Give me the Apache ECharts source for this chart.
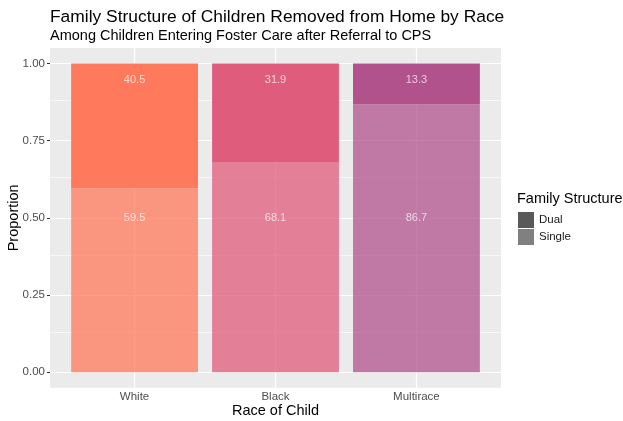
<!DOCTYPE html>
<html>
<head>
<meta charset="utf-8">
<script src="https://cdn.jsdelivr.net/npm/echarts@6/dist/echarts.min.js"></script>
<style>
html,body{margin:0;padding:0;background:#fff;}
#chart{width:623px;height:421px;}
</style>
</head>
<body>
<div id="chart"></div>
<script>
// ---- data ----
var races = ['White', 'Black', 'Multirace'];
var singlePct = [59.5, 68.1, 86.7];
var dualPct = [40.5, 31.9, 13.3];
var yTicks = [0, 0.25, 0.5, 0.75, 1];
var yMinor = [0.125, 0.375, 0.625, 0.875];
var structures = ['Dual', 'Single'];

// ---- styles ----
var dualColors = ['#FF7A5C', '#E05C7C', '#B2528D'];
var singleAlpha = 0.75;
function hexA(h, a) {
  var r = parseInt(h.slice(1,3),16), g = parseInt(h.slice(3,5),16), b = parseInt(h.slice(5,7),16);
  return 'rgba(' + r + ',' + g + ',' + b + ',' + a + ')';
}
var FONT = 'Liberation Sans, Arial, sans-serif';
var xPos = races.map(function (r, i) { return i + 1; });

// panel geometry (ggplot-like expansion: 0.6 units on each side of 3 categories)
var PL = 50, PT = 48, PW = 451, PH = 339.7;
var unit = PW / 3.2;

var gridLines = [];
yTicks.forEach(function (v) { gridLines.push({ yAxis: v, lineStyle: { color: '#fff', width: 1.2, type: 'solid' } }); });
yMinor.forEach(function (v) { gridLines.push({ yAxis: v, lineStyle: { color: '#fff', width: 0.6, type: 'solid' } }); });
xPos.forEach(function (v) { gridLines.push({ xAxis: v, lineStyle: { color: '#fff', width: 1.2, type: 'solid' } }); });

var chart = echarts.init(document.getElementById('chart'), null, { renderer: 'canvas' });
var option = {
  animation: false,
  backgroundColor: '#ffffff',
  textStyle: { fontFamily: FONT },
  title: [
    {
      text: 'Family Structure of Children Removed from Home by Race',
      left: 50, top: 9, padding: 0,
      textStyle: { fontFamily: FONT, fontSize: 17.4, fontWeight: 'normal', color: '#000' }
    },
    {
      text: 'Among Children Entering Foster Care after Referral to CPS',
      left: 50, top: 28, padding: 0,
      textStyle: { fontFamily: FONT, fontSize: 14.5, fontWeight: 'normal', color: '#000' }
    },
    {
      text: 'Family Structure', left: 517, top: 191, padding: 0,
      textStyle: { fontFamily: FONT, fontSize: 14.5, fontWeight: 'normal', color: '#000' }
    }
  ],
  legend: {
    orient: 'vertical', left: 518, top: 212, padding: 0,
    itemWidth: 16, itemHeight: 16, itemGap: 1,
    icon: 'rect',
    textStyle: { fontFamily: FONT, fontSize: 11.5, color: '#1a1a1a' },
    data: [
      { name: 'Dual', itemStyle: { color: '#595959', borderWidth: 0 } },
      { name: 'Single', itemStyle: { color: '#808080', borderWidth: 0 } }
    ]
  },
  grid: [
    { left: PL, top: PT, width: PW, height: PH, backgroundColor: '#EBEBEB', show: true, borderWidth: 0,
      containLabel: false, outerBoundsMode: 'none' },
    { left: PL + 0.1 * unit, top: PT, width: 3 * unit, height: PH, show: false,
      containLabel: false, outerBoundsMode: 'none' }
  ],
  xAxis: [
    {
      gridIndex: 0, type: 'value', min: 0.4, max: 3.6,
      axisLine: { show: false },
      splitLine: { show: false },
      axisTick: { show: true, customValues: xPos, length: 3, lineStyle: { color: '#333', width: 1 } },
      axisLabel: {
        customValues: xPos, margin: 3, color: '#4D4D4D', fontSize: 11.5, fontFamily: FONT,
        formatter: function (v) { return races[Math.round(v) - 1] || ''; }
      },
      name: 'Race of Child', nameLocation: 'middle', nameGap: 16, nameMoveOverlap: false,
      nameTextStyle: { fontFamily: FONT, fontSize: 14.5, color: '#000' }
    },
    {
      gridIndex: 1, type: 'category', data: races, boundaryGap: true, show: false
    }
  ],
  yAxis: [
    {
      gridIndex: 0, type: 'value', min: -0.05, max: 1.05,
      axisLine: { show: false },
      splitLine: { show: false },
      axisTick: { show: true, customValues: yTicks, length: 3, lineStyle: { color: '#333', width: 1 } },
      axisLabel: {
        customValues: yTicks, margin: 5, color: '#4D4D4D', fontSize: 11.5, fontFamily: FONT,
        formatter: function (v) { return v.toFixed(2); }
      },
      name: 'Proportion', nameLocation: 'middle', nameGap: 29, nameMoveOverlap: false,
      nameTextStyle: { fontFamily: FONT, fontSize: 14.5, color: '#000' }
    },
    {
      gridIndex: 1, type: 'value', min: -0.05, max: 1.05, show: false, splitLine: { show: false }
    }
  ],
  series: [
    {
      type: 'scatter', data: [], xAxisIndex: 0, yAxisIndex: 0, z: 1, silent: true,
      markLine: { z: 1, silent: true, symbol: ['none', 'none'], label: { show: false }, animation: false, data: gridLines }
    },
    {
      name: 'Single', type: 'bar', stack: 'fam', barWidth: 0.9 * unit, z: 3,
      xAxisIndex: 1, yAxisIndex: 1,
      data: singlePct.map(function (v, i) {
        return { value: v / 100, itemStyle: { color: hexA(dualColors[i], singleAlpha) } };
      })
    },
    {
      name: 'Dual', type: 'bar', stack: 'fam', barWidth: 0.9 * unit, z: 3,
      xAxisIndex: 1, yAxisIndex: 1,
      data: dualPct.map(function (v, i) {
        return { value: v / 100, itemStyle: { color: dualColors[i] } };
      })
    },
    {
      type: 'scatter', symbolSize: 0, z: 5, silent: true,
      xAxisIndex: 1, yAxisIndex: 1,
      label: { show: true, position: 'inside', color: 'rgba(255,255,255,0.88)', fontSize: 11, fontFamily: FONT,
        formatter: function (p) { return p.data[2]; } },
      data: singlePct.map(function (v, i) { return [i, 0.5, v.toFixed(1)]; })
        .concat(dualPct.map(function (v, i) { return [i, 0.946, v.toFixed(1)]; }))
    }
  ]
};
chart.setOption(option);
</script>
</body>
</html>
